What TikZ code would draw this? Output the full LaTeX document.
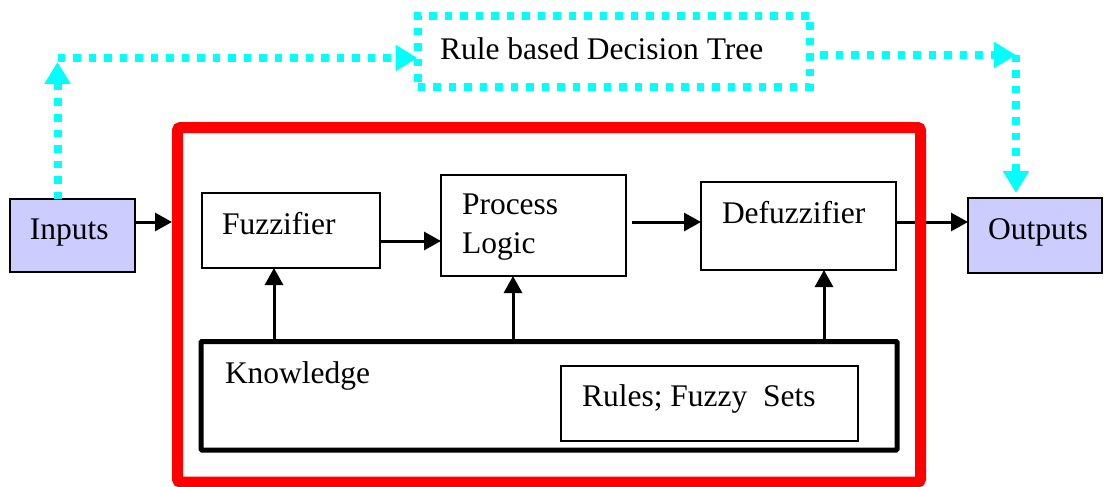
\documentclass[tikz,border=0pt]{standalone}
\usepackage{fontspec}
\setmainfont{Liberation Serif}
\usetikzlibrary{arrows.meta,calc}
\definecolor{lav}{HTML}{CCCCFF}
\definecolor{cy}{HTML}{00FFFF}
\tikzset{
  box/.style={draw=black, line width=2pt, rectangle, inner sep=0pt, outer sep=0pt},
  lbl/.style={anchor=base west, inner sep=0pt, outer sep=0pt, font=\fontsize{31.5}{39}\selectfont},
  arr/.style={draw=black, line width=3pt, -{Triangle[length=17pt,width=18pt]}},
  cyarr/.style={draw=cy, line width=8pt, dash pattern=on 7.5pt off 8pt, -{Triangle[length=22pt,width=25pt]}},
  cybox/.style={draw=cy, line width=8pt, dash pattern=on 7.5pt off 8pt, rectangle, inner sep=0pt, outer sep=0pt},
  redbox/.style={draw=red, line width=11pt, rounded corners=3pt, rectangle, inner sep=0pt, outer sep=0pt}
}
\begin{document}
\begin{tikzpicture}[x=1pt,y=-1pt]
\useasboundingbox (0,0) rectangle (1104,487);
% boxes
\node[box, fill=lav, minimum width=125pt, minimum height=73pt] (inputs) at (72.5,235.5) {};
\node[box, fill=lav, minimum width=134pt, minimum height=75pt] (outputs) at (1035,235.5) {};
\node[box, minimum width=178pt, minimum height=75pt] (fuzz) at (291,230.5) {};
\node[box, minimum width=185pt, minimum height=101pt] (proc) at (533.5,225.5) {};
\node[box, minimum width=195pt, minimum height=88pt] (defuzz) at (798.5,226) {};
\node[box, line width=5pt, rounded corners=1pt, minimum width=696pt, minimum height=108.5pt] (know) at (549,395.75) {};
\node[box, line width=1.5pt, minimum width=297pt, minimum height=75pt] (rules) at (709.5,403.5) {};
\node[cybox, minimum width=392.5pt, minimum height=71pt] (tree) at (613.75,51.5) {};
\node[minimum width=743pt, minimum height=354.5pt, inner sep=0pt, outer sep=5.5pt] (fis) at (549,304.75) {};
% texts
\node[lbl] (tin) at (30,239) {Inputs};
\node[lbl] (tout) at (988,239) {Outputs};
\node[lbl] (tfuzz) at (222,234) {Fuzzifier};
\node[lbl] (tproc) at (462,214) {Process};
\node[lbl] (tlogic) at (462,253) {Logic};
\node[lbl] (tdefuzz) at (722,223) {Defuzzifier};
\node[lbl] (tknow) at (225,383) {Knowledge};
\node[lbl] (trules) at (582,406) {Rules; Fuzzy\ \ Sets};
\node[lbl] (ttree) at (440,60) {Rule based Decision Tree};
% black arrows
\draw[arr] (inputs.east |- 0,222) -- (fis.west |- 0,222);
\draw[arr] (fuzz.east |- 0,241) -- (proc.west |- 0,241);
\draw[arr, shorten <=6pt] (proc.east |- 0,222) -- (defuzz.west |- 0,222);
\draw[arr] (defuzz.east |- 0,222) -- (outputs.west |- 0,222);
\draw[arr] (know.north -| 274,0) -- (fuzz.south -| 274,0);
\draw[arr] (know.north -| 513,0) -- (proc.south -| 513,0);
\draw[arr] (know.north -| 824,0) -- (defuzz.south -| 824,0);
% red frame
\draw[redbox] (177.5,127.5) rectangle (920.5,482);
% cyan connectors
\coordinate (cL) at (57.5,58);
\coordinate (cR) at (1016,55);
\draw[cyarr, shorten >=4pt] (cL |- inputs.north) -- (cL);
\draw[cyarr] (cL) -- (tree.west |- cL);
\draw[cyarr, shorten <=10pt] (tree.east |- cR) -- (cR);
\draw[cyarr, shorten >=5pt] (cR) -- (cR |- outputs.north);
\end{tikzpicture}
\end{document}
